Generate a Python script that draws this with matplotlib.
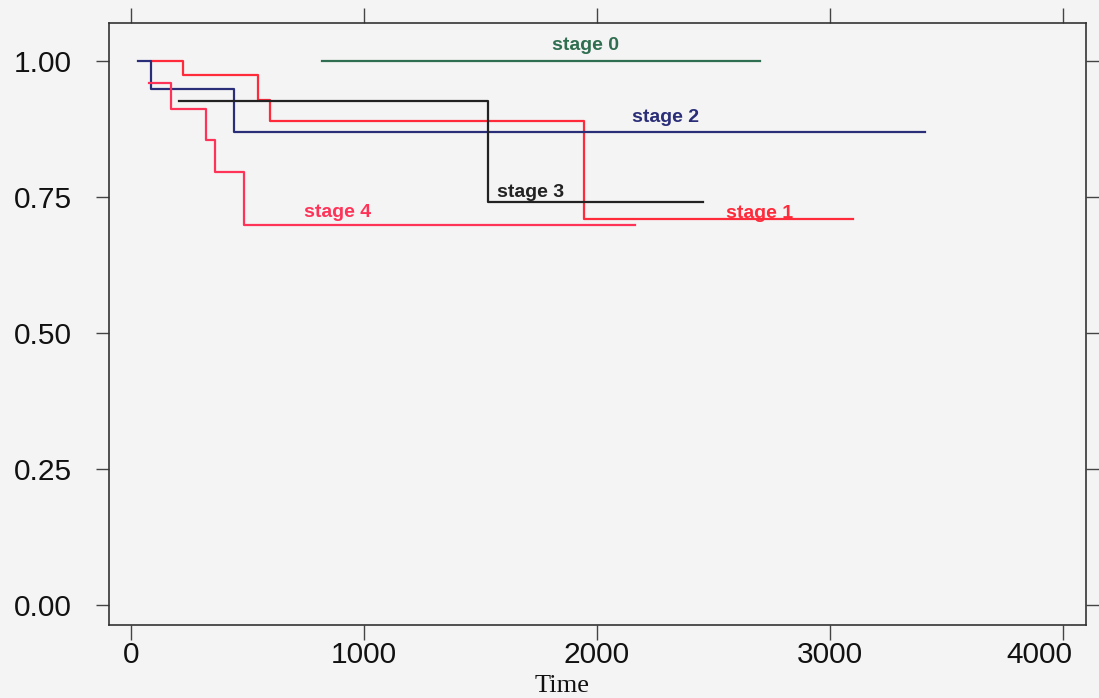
import matplotlib
matplotlib.use('Agg')
import matplotlib.pyplot as plt
import matplotlib.transforms as mtransforms

# Kaplan-Meier step curves (time, survival)
stage0_t = [820, 2700]
stage0_s = [1.0, 1.0]

stage1_t = [90, 223, 545, 597, 1944, 3099]
stage1_s = [1.0, 0.975, 0.929, 0.889, 0.710, 0.710]

stage2_t = [30, 86, 442, 3408]
stage2_s = [1.0, 0.948, 0.869, 0.869]

stage3_t = [206, 1532, 2455]
stage3_s = [0.926, 0.741, 0.741]

stage4_t = [77, 172, 322, 361, 485, 2163]
stage4_s = [0.960, 0.912, 0.855, 0.796, 0.698, 0.698]

curve_names = ['stage 0', 'stage 1', 'stage 2', 'stage 3', 'stage 4']
label_x = [1953, 2700, 2294, 1571, 888]
label_y = [1.020, 0.711, 0.888, 0.750, 0.713]
label_ha = ['center', 'center', 'center', 'left', 'center']

x_ticks = [0, 1000, 2000, 3000, 4000]
y_ticks = [0.00, 0.25, 0.50, 0.75, 1.00]

colors = ['#2f6e50', '#ff2a3a', '#2a2e78', '#222222', '#ff3358']
bg = '#f4f4f4'

fig = plt.figure(figsize=(10.99, 6.98), dpi=100, facecolor=bg)
ax = fig.add_axes([109 / 1099, 1 - 625 / 698, (1086 - 109) / 1099, (625 - 23) / 698])
ax.set_facecolor(bg)

curves = [(stage0_t, stage0_s), (stage1_t, stage1_s), (stage2_t, stage2_s),
          (stage3_t, stage3_s), (stage4_t, stage4_s)]
for (t, s), c in zip(curves, colors):
    ax.step(t, s, where='post', color=c, lw=1.6)

for name, x, y, ha, c in zip(curve_names, label_x, label_y, label_ha, colors):
    ax.text(x, y, name, color=c, fontsize=14, fontweight='bold',
            family='Liberation Sans', ha=ha, va='baseline')

ax.set_xlim(-94, 4099)
ax.set_ylim(-0.0368, 1.0699)
ax.set_xticks(x_ticks)
ax.set_yticks(y_ticks)
ax.set_xticklabels([str(v) for v in x_ticks])
ax.set_yticklabels(['%.2f' % v for v in y_ticks])

ax.tick_params(axis='x', direction='out', length=10.5, width=1, color='#444444',
               top=True, labeltop=False, pad=1, labelsize=21.5)
ax.tick_params(axis='y', direction='out', length=9.5, width=1, color='#444444',
               right=True, labelright=False, pad=17, labelsize=21.5)
for lab in ax.get_xticklabels() + ax.get_yticklabels():
    lab.set_family('Liberation Sans')
    lab.set_color('#111111')

# last x label sits a little to the left in the original
shift = mtransforms.ScaledTranslation(-0.24, 0, fig.dpi_scale_trans)
last = ax.get_xticklabels()[-1]
last.set_transform(last.get_transform() + shift)

for sp in ax.spines.values():
    sp.set_color('#333333')
    sp.set_linewidth(1.2)

ax.set_xlabel('Time', family='Liberation Serif', fontsize=19, color='#111111')
ax.xaxis.set_label_coords((562 - 109) / 977, (625 - 692) / 602)
ax.xaxis.label.set_va('baseline')

fig.savefig('out.png', dpi=100, facecolor=bg)
